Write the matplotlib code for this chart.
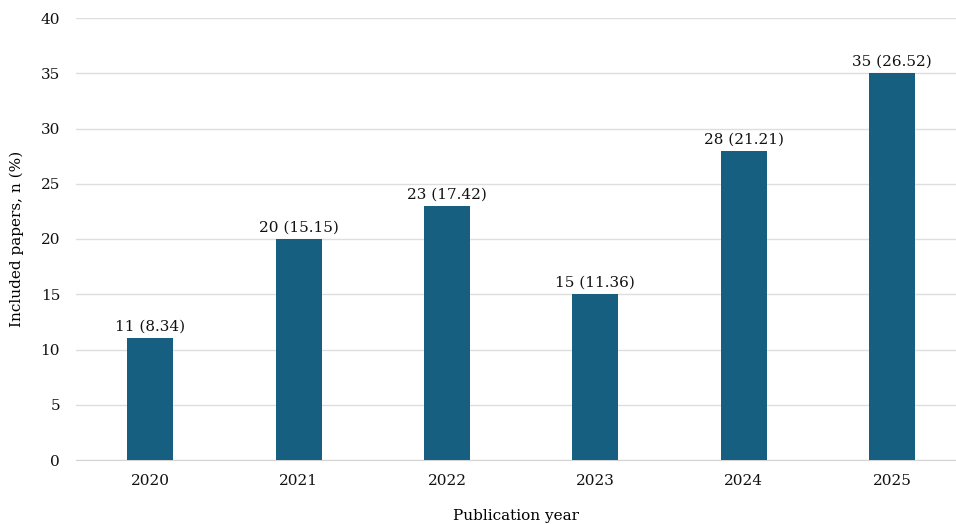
import matplotlib
matplotlib.use('Agg')
import matplotlib.pyplot as plt

# Data
years = ['2020', '2021', '2022', '2023', '2024', '2025']
counts = [11, 20, 23, 15, 28, 35]
percents = ['8.34', '15.15', '17.42', '11.36', '21.21', '26.52']

plt.rcParams['font.family'] = ['DejaVu Serif']

fig = plt.figure(figsize=(9.56, 5.24), dpi=100)
ax = fig.add_axes([76 / 956, 64 / 524, 880 / 956, 442 / 524])

x = range(len(years))
bars = ax.bar(x, counts, width=0.31, color='#175f80', zorder=3)

for i, b in enumerate(bars):
    ax.text(b.get_x() + b.get_width() / 2, b.get_height() + 0.4,
            f'{counts[i]} ({percents[i]})', ha='center', va='bottom',
            fontsize=11, color='#111111')

ax.set_ylim(0, 40)
ax.set_yticks(range(0, 41, 5))
ax.set_xlim(-0.5, 5.43)
ax.set_xticks(list(x))
ax.set_xticklabels(years)
ax.tick_params(axis='both', length=0, labelsize=11, colors='#111111')
ax.tick_params(axis='y', pad=11.5)
ax.tick_params(axis='x', pad=10)

ax.grid(axis='y', color='#dedede', linewidth=1, zorder=0)
for s in ['top', 'right', 'left']:
    ax.spines[s].set_visible(False)
ax.spines['bottom'].set_color('#d4d4d4')

ax.set_ylabel('Included papers, n (%)', fontsize=11, labelpad=12)
ax.set_xlabel('Publication year', fontsize=11, labelpad=15)

fig.savefig('out.png', dpi=100)
